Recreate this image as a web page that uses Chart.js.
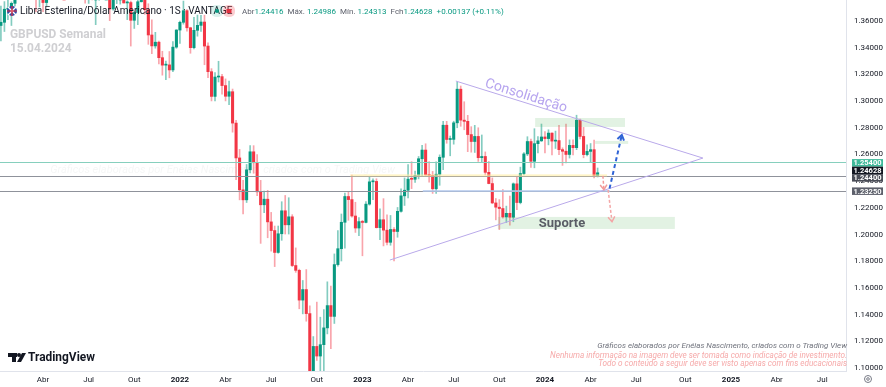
<!DOCTYPE html>
<html>
<head>
<meta charset="utf-8">
<script src="https://cdn.jsdelivr.net/npm/chart.js@4.4.1/dist/chart.umd.min.js"></script>
<style>
  html, body { margin: 0; padding: 0; background: #fff; overflow: hidden; }
  canvas { display: block; }
</style>
</head>
<body>
<canvas id="chart" width="886" height="387"></canvas>
<script>
// weekly GBPUSD candles, one per week starting Mon 04.01.2021
const open = [
  1.3670,1.3566,1.3590,1.3688,1.3692,1.3732,1.3841,1.3999,1.3924,1.3835,1.3931,1.3870,1.3788,1.3833,1.3738,1.3836,1.3874,1.3817,1.3997,1.4158,
  1.4153,1.4212,1.4158,1.4113,1.3806,1.3874,1.3826,1.3885,1.3760,1.3760,1.3904,1.3862,1.3868,1.3690,1.3760,1.3834,1.3836,1.3735,1.3738,1.3605,
  1.3663,1.3744,1.3756,1.3684,1.3495,1.3413,1.3441,1.3325,1.3269,1.3271,1.3233,1.3404,1.3532,1.3590,1.3677,1.3549,1.3400,1.3530,1.3567,1.3592,
  1.3412,1.3220,1.3035,1.3180,1.3183,1.3116,1.3036,1.3070,1.2835,1.2574,1.2335,1.2260,1.2485,1.2620,1.2538,1.2320,1.2223,1.2265,1.2095,1.2030,
  1.1866,1.2006,1.2178,1.2073,1.2133,1.1768,1.1732,1.1509,1.1588,1.1408,1.0857,1.1162,1.1090,1.1175,1.1301,1.1468,1.1387,1.1775,1.1894,1.2092,
  1.2285,1.2262,1.2139,1.2049,1.2097,1.2091,1.2228,1.2395,1.2398,1.2052,1.2111,1.2033,1.1942,1.2038,1.2023,1.2174,1.2290,1.2332,1.2415,1.2414,
  1.2444,1.2568,1.2633,1.2447,1.2443,1.2343,1.2452,1.2579,1.2819,1.2712,1.2713,1.2837,1.3089,1.2857,1.2848,1.2749,1.2697,1.2735,1.2576,1.2585,
  1.2466,1.2382,1.2237,1.2205,1.2195,1.2132,1.2159,1.2130,1.2380,1.2240,1.2457,1.2604,1.2697,1.2549,1.2681,1.2702,1.2731,1.2719,1.2760,1.2700,
  1.2704,1.2636,1.2624,1.2600,1.2668,1.2651,1.2856,1.2735,1.2599,1.2623,1.2636,1.24416
];
const high = [
  1.3703,1.3711,1.3745,1.3759,1.3743,1.3866,1.4009,1.4241,1.4017,1.3989,1.4003,1.3882,1.3887,1.3918,1.3845,1.4008,1.3976,1.4005,1.4166,1.4234,
  1.4218,1.4250,1.4217,1.4133,1.3974,1.3935,1.3908,1.3909,1.3787,1.3984,1.3959,1.3876,1.3892,1.3785,1.3892,1.3862,1.3913,1.3751,1.3749,1.3674,
  1.3773,1.3834,1.3826,1.3729,1.3608,1.3515,1.3450,1.3373,1.3300,1.3371,1.3445,1.3535,1.3599,1.3749,1.3686,1.3553,1.3628,1.3644,1.3643,1.3643,
  1.3437,1.3243,1.3214,1.3298,1.3200,1.3166,1.3149,1.3090,1.2856,1.2638,1.2406,1.2525,1.2666,1.2666,1.2600,1.2406,1.2325,1.2331,1.2166,1.2064,
  1.2064,1.2246,1.2293,1.2276,1.2149,1.1900,1.1741,1.1656,1.1738,1.1466,1.1236,1.1494,1.1381,1.1438,1.1646,1.1614,1.1855,1.2029,1.2154,1.2311,
  1.2323,1.2446,1.2242,1.2128,1.2107,1.2247,1.2436,1.2418,1.2418,1.2193,1.2269,1.2148,1.2143,1.2053,1.2203,1.2343,1.2424,1.2525,1.2546,1.2475,
  1.2585,1.2668,1.2680,1.2547,1.2473,1.2544,1.2597,1.2848,1.2848,1.2738,1.2849,1.3142,1.3113,1.2995,1.2893,1.2808,1.2818,1.2800,1.2746,1.2619,
  1.2548,1.2424,1.2270,1.2262,1.2337,1.2213,1.2289,1.2387,1.2428,1.2505,1.2615,1.2733,1.2715,1.2793,1.2734,1.2828,1.2771,1.2785,1.2762,1.2775,
  1.2818,1.2650,1.2828,1.2709,1.2709,1.2894,1.2865,1.2803,1.2673,1.2682,1.2708,1.24986
];
const low = [
  1.3499,1.3451,1.3521,1.3610,1.3566,1.3710,1.3835,1.3888,1.3777,1.3779,1.3837,1.3670,1.3705,1.3669,1.3715,1.3817,1.3800,1.3801,1.3990,1.4069,
  1.4092,1.4082,1.4073,1.3786,1.3791,1.3733,1.3731,1.3758,1.3572,1.3755,1.3860,1.3803,1.3602,1.3680,1.3730,1.3726,1.3734,1.3610,1.3412,1.3544,
  1.3572,1.3742,1.3650,1.3425,1.3355,1.3396,1.3278,1.3194,1.3160,1.3174,1.3220,1.3395,1.3431,1.3576,1.3523,1.3358,1.3390,1.3486,1.3522,1.3272,
  1.3175,1.3001,1.3001,1.3143,1.3051,1.3001,1.2973,1.2767,1.2411,1.2260,1.2155,1.2240,1.2462,1.2459,1.2291,1.1934,1.2164,1.1976,1.1876,1.1760,
  1.1860,1.1957,1.2004,1.2004,1.1760,1.1717,1.1444,1.1406,1.1351,1.0839,1.0350,1.1057,1.0924,1.0938,1.1256,1.1146,1.1334,1.1763,1.1802,1.1898,
  1.2107,1.2130,1.2016,1.1992,1.1841,1.2087,1.2220,1.2262,1.2049,1.1961,1.1915,1.1923,1.1920,1.1803,1.1980,1.2168,1.2218,1.2275,1.2344,1.2391,
  1.2417,1.2436,1.2443,1.2392,1.2308,1.2308,1.2369,1.2487,1.2684,1.2590,1.2677,1.2800,1.2811,1.2785,1.2621,1.2617,1.2615,1.2548,1.2546,1.2446,
  1.2380,1.2231,1.2110,1.2037,1.2123,1.2090,1.2070,1.2096,1.2187,1.2230,1.2446,1.2591,1.2502,1.2500,1.2612,1.2697,1.2611,1.2672,1.2597,1.2645,
  1.2599,1.2518,1.2536,1.2573,1.2597,1.2636,1.2716,1.2575,1.2589,1.2539,1.2425,1.24313
];
const close = [
  1.3566,1.3590,1.3688,1.3692,1.3732,1.3841,1.3999,1.3924,1.3835,1.3931,1.3870,1.3788,1.3833,1.3738,1.3836,1.3874,1.3817,1.3997,1.4158,1.4153,
  1.4212,1.4158,1.4113,1.3806,1.3874,1.3826,1.3885,1.3760,1.3760,1.3904,1.3862,1.3868,1.3690,1.3760,1.3834,1.3836,1.3735,1.3738,1.3605,1.3663,
  1.3744,1.3756,1.3684,1.3495,1.3413,1.3441,1.3325,1.3269,1.3271,1.3233,1.3404,1.3532,1.3590,1.3677,1.3549,1.3400,1.3530,1.3567,1.3592,1.3412,
  1.3220,1.3035,1.3180,1.3183,1.3116,1.3036,1.3070,1.2835,1.2574,1.2335,1.2260,1.2485,1.2620,1.2538,1.2320,1.2223,1.2265,1.2095,1.2030,1.1866,
  1.2006,1.2178,1.2073,1.2133,1.1768,1.1732,1.1509,1.1588,1.1408,1.0857,1.1162,1.1090,1.1175,1.1301,1.1468,1.1387,1.1775,1.1894,1.2092,1.2285,
  1.2262,1.2139,1.2049,1.2097,1.2091,1.2228,1.2395,1.2398,1.2052,1.2111,1.2033,1.1942,1.2038,1.2023,1.2174,1.2290,1.2332,1.2415,1.2414,1.2444,
  1.2568,1.2633,1.2447,1.2443,1.2343,1.2452,1.2579,1.2819,1.2712,1.2713,1.2837,1.3089,1.2857,1.2848,1.2749,1.2697,1.2735,1.2576,1.2585,1.2466,
  1.2382,1.2237,1.2205,1.2195,1.2132,1.2159,1.2130,1.2380,1.2240,1.2457,1.2604,1.2697,1.2549,1.2681,1.2702,1.2731,1.2719,1.2760,1.2700,1.2704,
  1.2636,1.2624,1.2600,1.2668,1.2651,1.2856,1.2735,1.2599,1.2623,1.2636,1.2442,1.24628
];

// time axis labels (first weekly bar of each month)
const tickMonths = ['2021-04','2021-07','2021-10','2022-01','2022-04','2022-07','2022-10','2023-01','2023-04','2023-07','2023-10','2024-01','2024-04','2024-07','2024-10','2025-01','2025-04','2025-07'];
const tickLabels = ['Abr','Jul','Out','2022','Abr','Jul','Out','2023','Abr','Jul','Out','2024','Abr','Jul','Out','2025','Abr','Jul'];

// price axis
const priceTicks = [1.10,1.12,1.14,1.16,1.18,1.20,1.22,1.24,1.26,1.28,1.30,1.32,1.34,1.36];

// horizontal levels and their axis labels
const levelPrices = [1.2540, 1.2440, 1.2325];
const axisLabelPrices = [1.2540, 1.24628, 1.2440, 1.2325];

// drawings, in [week, price]
const triangleTop = [[130.6, 1.3150], [201.0, 1.2573]];
const triangleBottom = [[111.8, 1.1809], [201.0, 1.2573]];
const resistanceBox = [[153.2, 1.2873], [178.8, 1.2806]];
const smallBox = [[170.3, 1.2701], [179.7, 1.2679]];
const supportBox = [[142.6, 1.2132], [193.0, 1.2042]];
const yellowBand = [[100.5, 1.2451], [173.7, 1.2435]];
const blueLevel = [[121.2, 1.2326], [174.5, 1.2326]];
const upArrow = [[174.4, 1.2345], [177.9, 1.2746]];
const downArrow1 = [[172.5, 1.2440], [172.8, 1.2336]];
const downArrow2 = [[174.0, 1.2334], [175.1, 1.2096]];

const weekZero = Date.UTC(2021, 0, 4);
const DAY = 86400000;
function firstBarOf(ym) {
  const [y, m] = ym.split('-').map(Number);
  return Math.ceil((Date.UTC(y, m - 1, 1) - weekZero) / (7 * DAY));
}
const tickWeeks = tickMonths.map(firstBarOf);

const UP = '#089981', DOWN = '#f23645';
const bodies = open.map((o, i) => ({ x: i, y: [o, close[i]] }));
const wicks = open.map((o, i) => ({ x: i, y: [low[i], high[i]] }));
const bodyColors = open.map((o, i) => close[i] >= o ? UP : DOWN);
const wickColors = open.map((o, i) => close[i] >= o ? 'rgba(8,153,129,0.5)' : 'rgba(242,54,69,0.45)');

const FONT = 'Roboto, "Liberation Sans", sans-serif';

function px(chart, p) {
  return [chart.scales.x.getPixelForValue(p[0]), chart.scales.y.getPixelForValue(p[1])];
}

// pick a font size so that text spans the given width
function fitFont(ctx, text, width, style) {
  ctx.font = style + '10px ' + FONT;
  const size = 10 * width / ctx.measureText(text).width;
  ctx.font = style + size.toFixed(2) + 'px ' + FONT;
  return size;
}

function arrow(ctx, a, b, color, width, dash) {
  ctx.save();
  ctx.strokeStyle = color;
  ctx.lineWidth = width;
  ctx.setLineDash(dash);
  ctx.beginPath();
  ctx.moveTo(a[0], a[1]);
  ctx.lineTo(b[0], b[1]);
  ctx.stroke();
  ctx.setLineDash([]);
  const ang = Math.atan2(b[1] - a[1], b[0] - a[0]);
  const L = 6;
  ctx.beginPath();
  ctx.moveTo(b[0] - L * Math.cos(ang - 0.6), b[1] - L * Math.sin(ang - 0.6));
  ctx.lineTo(b[0], b[1]);
  ctx.lineTo(b[0] - L * Math.cos(ang + 0.6), b[1] - L * Math.sin(ang + 0.6));
  ctx.stroke();
  ctx.restore();
}

const drawings = {
  id: 'drawings',
  afterDatasetsDraw(chart) {
    const ctx = chart.ctx;
    const area = chart.chartArea;
    const ys = chart.scales.y;
    ctx.save();
    ctx.beginPath();
    ctx.rect(area.left, area.top, area.right - area.left, area.bottom - area.top);
    ctx.clip();

    // faint watermark
    ctx.font = 'italic 11px ' + FONT;
    ctx.fillStyle = 'rgba(120,123,134,0.07)';
    ctx.textAlign = 'right';
    ctx.textBaseline = 'middle';
    ctx.fillText('Gráficos elaborados por Enéias Nascimento, criados com o Trading View', 395, 170);

    // boxes
    ctx.fillStyle = 'rgba(76,175,80,0.16)';
    [resistanceBox, smallBox, supportBox].forEach(bx => {
      const a = px(chart, bx[0]), b = px(chart, bx[1]);
      ctx.fillRect(a[0], a[1], b[0] - a[0], b[1] - a[1]);
    });

    // full-width levels
    const lvlColors = ['#86cfbd', '#8f929b', '#8f929b'];
    levelPrices.forEach((p, i) => {
      const y = Math.round(ys.getPixelForValue(p)) + 0.5;
      ctx.strokeStyle = lvlColors[i];
      ctx.lineWidth = 1;
      ctx.beginPath();
      ctx.moveTo(area.left, y);
      ctx.lineTo(area.right, y);
      ctx.stroke();
    });

    // yellow band
    {
      const a = px(chart, yellowBand[0]), b = px(chart, yellowBand[1]);
      ctx.fillStyle = 'rgba(255,236,160,0.6)';
      ctx.fillRect(a[0], a[1], b[0] - a[0], b[1] - a[1]);
    }
    // light blue level segment
    {
      const a = px(chart, blueLevel[0]), b = px(chart, blueLevel[1]);
      ctx.strokeStyle = '#b3c8ec';
      ctx.lineWidth = 1.5;
      ctx.beginPath();
      ctx.moveTo(a[0], a[1]);
      ctx.lineTo(b[0], b[1]);
      ctx.stroke();
    }

    // triangle
    ctx.strokeStyle = '#b9a9ea';
    ctx.lineWidth = 1;
    [triangleTop, triangleBottom].forEach(ln => {
      const a = px(chart, ln[0]), b = px(chart, ln[1]);
      ctx.beginPath();
      ctx.moveTo(a[0], a[1]);
      ctx.lineTo(b[0], b[1]);
      ctx.stroke();
    });

    // Consolidação label along the upper line
    {
      const a = px(chart, triangleTop[0]), b = px(chart, triangleTop[1]);
      const ang = Math.atan2(b[1] - a[1], b[0] - a[0]);
      ctx.save();
      ctx.translate(526, 96);
      ctx.rotate(ang);
      ctx.font = '14px ' + FONT;
      ctx.fillStyle = '#b6a4ef';
      ctx.textAlign = 'center';
      ctx.textBaseline = 'middle';
      ctx.fillText('Consolidação', 0, 0);
      ctx.restore();
    }

    // Suporte label
    {
      const a = px(chart, supportBox[0]), b = px(chart, supportBox[1]);
      ctx.font = 'bold 13px ' + FONT;
      ctx.fillStyle = '#5a5d66';
      ctx.textAlign = 'center';
      ctx.textBaseline = 'middle';
      ctx.fillText('Suporte', 562, (a[1] + b[1]) / 2 + 0.5);
    }

    // arrows
    arrow(ctx, px(chart, upArrow[0]), px(chart, upArrow[1]), '#2f63d6', 2, [4, 3]);
    arrow(ctx, px(chart, downArrow1[0]), px(chart, downArrow1[1]), '#f29a9a', 1.5, [3, 2]);
    arrow(ctx, px(chart, downArrow2[0]), px(chart, downArrow2[1]), '#f4a7a7', 1.5, [3, 2]);

    ctx.restore();
  },
  afterDraw(chart) {
    const ctx = chart.ctx;
    const ys = chart.scales.y;
    ctx.save();

    ctx.textBaseline = 'middle';
    // flag
    ctx.fillStyle = '#2b4aa8';
    ctx.beginPath(); ctx.arc(12, 11, 5, 0, Math.PI * 2); ctx.fill();
    ctx.strokeStyle = '#fff'; ctx.lineWidth = 1.4;
    ctx.beginPath(); ctx.moveTo(8, 7); ctx.lineTo(16, 15); ctx.moveTo(16, 7); ctx.lineTo(8, 15); ctx.stroke();
    ctx.strokeStyle = '#e0303f'; ctx.lineWidth = 1.2;
    ctx.beginPath(); ctx.moveTo(12, 6); ctx.lineTo(12, 16); ctx.moveTo(7, 11); ctx.lineTo(17, 11); ctx.stroke();

    ctx.font = '10px ' + FONT;
    ctx.fillStyle = '#131722';
    ctx.textAlign = 'left';
    ctx.fillText('Libra Esterlina/Dólar Americano · 1S · VANTAGE', 20, 11.5);

    // status badges
    ctx.fillStyle = 'rgba(8,153,129,0.15)';
    ctx.beginPath(); ctx.roundRect(211, 5, 12, 12, 5); ctx.fill();
    ctx.fillStyle = UP;
    ctx.beginPath(); ctx.arc(217, 11, 2, 0, Math.PI * 2); ctx.fill();
    ctx.fillStyle = 'rgba(242,54,69,0.25)';
    ctx.beginPath(); ctx.roundRect(223, 5, 12, 12, 5); ctx.fill();
    ctx.fillStyle = '#e0303f';
    ctx.fillRect(226.5, 9, 5, 4);

    // OHLC
    const parts = [['Abr', '1.24416'], ['Máx.', '1.24986'], ['Mín.', '1.24313'], ['Fch', '1.24628']];
    const tail = '+0.00137 (+0.11%)';
    const GAP = 4, INNER = 2;
    ctx.font = '8px ' + FONT;
    let x = 242;
    parts.forEach(([k, v]) => {
      ctx.fillStyle = '#5d606b';
      ctx.fillText(k, x, 11.5);
      x += ctx.measureText(k).width + (k.endsWith('.') ? INNER : 0);
      ctx.fillStyle = UP;
      ctx.fillText(v, x, 11.5);
      x += ctx.measureText(v).width + GAP;
    });
    ctx.fillStyle = UP;
    ctx.fillText(tail, x, 11.5);

    // watermark title
    fitFont(ctx, 'GBPUSD Semanal', 96, 'bold ');
    ctx.fillStyle = '#cfcfd2';
    ctx.fillText('GBPUSD Semanal', 10, 35);
    ctx.fillText('15.04.2024', 10, 49);

    // credits
    ctx.textAlign = 'right';
    fitFont(ctx, 'Gráficos elaborados por Enéias Nascimento, criados com o Trading View', 250, 'italic ');
    ctx.fillStyle = '#6f727c';
    ctx.fillText('Gráficos elaborados por Enéias Nascimento, criados com o Trading View', 847, 346);
    fitFont(ctx, 'Nenhuma informação na imagem deve ser tomada como indicação de investimento.', 297, 'italic ');
    ctx.fillStyle = '#f6a9a9';
    ctx.fillText('Nenhuma informação na imagem deve ser tomada como indicação de investimento.', 847, 355.5);
    ctx.fillText('Todo o conteúdo a seguir deve ser visto apenas com fins educacionais', 847, 364);

    // TradingView logo
    ctx.fillStyle = '#131722';
    ctx.fillRect(8, 353, 9, 4);
    ctx.fillRect(12, 353, 4, 9);
    ctx.beginPath(); ctx.arc(19, 355, 2, 0, Math.PI * 2); ctx.fill();
    ctx.beginPath(); ctx.moveTo(22, 353); ctx.lineTo(26, 353); ctx.lineTo(21, 362); ctx.lineTo(17, 362); ctx.closePath(); ctx.fill();
    ctx.textAlign = 'left';
    fitFont(ctx, 'TradingView', 67, 'bold ');
    ctx.fillText('TradingView', 28, 358);

    // price axis labels, stacked like the platform does
    const boxColors = ['#3fb99a', '#131722', '#4a4d57', '#5d606b'];
    const H = 7.5;
    const items = axisLabelPrices.map((p, i) => ({ i, c: ys.getPixelForValue(p) }));
    let groups = items.map(it => ({ members: [it], c: it.c }));
    let merged = true;
    while (merged) {
      merged = false;
      for (let g = 0; g < groups.length - 1; g++) {
        const a = groups[g], b = groups[g + 1];
        const aBottom = a.c + a.members.length * H / 2;
        const bTop = b.c - b.members.length * H / 2;
        if (bTop - aBottom < 2) {
          const all = a.members.concat(b.members);
          groups.splice(g, 2, { members: all, c: all.reduce((s, m) => s + m.c, 0) / all.length });
          merged = true;
          break;
        }
      }
    }
    ctx.font = 'bold 7.5px ' + FONT;
    ctx.textAlign = 'center';
    groups.forEach(g => {
      let top = g.c - g.members.length * H / 2;
      g.members.forEach(m => {
        ctx.fillStyle = boxColors[m.i];
        ctx.fillRect(852, top, 31, H);
        ctx.fillStyle = '#fff';
        ctx.fillText(axisLabelPrices[m.i].toFixed(5), 867.5, top + H / 2 + 0.5);
        top += H;
      });
    });

    // settings icon in the corner
    ctx.strokeStyle = '#787b86';
    ctx.lineWidth = 1;
    ctx.beginPath(); ctx.arc(868, 379, 3.5, 0, Math.PI * 2); ctx.stroke();
    ctx.beginPath(); ctx.arc(868, 379, 1.3, 0, Math.PI * 2); ctx.stroke();

    ctx.restore();
  }
};

new Chart(document.getElementById('chart'), {
  type: 'bar',
  data: {
    datasets: [
      {
        label: 'corpo',
        data: bodies,
        backgroundColor: bodyColors,
        barThickness: 2.4,
        minBarLength: 1,
        grouped: false,
        order: 0
      },
      {
        label: 'pavio',
        data: wicks,
        backgroundColor: wickColors,
        barThickness: 1,
        grouped: false,
        order: 1
      }
    ]
  },
  options: {
    responsive: false,
    animation: false,
    devicePixelRatio: 1,
    layout: { padding: 0 },
    plugins: { legend: { display: false }, tooltip: { enabled: false } },
    scales: {
      x: {
        type: 'linear',
        offset: false,
        min: 2.6 / 3.51,
        max: (846 + 2.6) / 3.51,
        grid: { display: false, drawTicks: false },
        border: { display: true, color: '#e0e3eb' },
        afterBuildTicks: s => { s.ticks = tickWeeks.map(v => ({ value: v })); },
        afterFit: s => { s.height = 16; s.paddingLeft = 0; s.paddingRight = 0; },
        ticks: {
          autoSkip: false,
          maxRotation: 0,
          padding: 4,
          color: '#131722',
          font: c => ({ family: FONT, size: 8, weight: /^\d{4}$/.test(tickLabels[c.index] || '') ? 'bold' : 'normal' }),
          callback: (v, i) => tickLabels[i]
        }
      },
      y: {
        type: 'linear',
        position: 'right',
        min: 1.0978,
        max: 1.3757,
        grid: { display: false, drawTicks: false },
        border: { display: true, color: '#e0e3eb' },
        afterBuildTicks: s => { s.ticks = priceTicks.map(v => ({ value: v })); },
        afterFit: s => { s.width = 40; s.paddingTop = 0; s.paddingBottom = 0; },
        ticks: {
          padding: 8,
          color: '#131722',
          font: { family: FONT, size: 8 },
          callback: v => v.toFixed(5)
        }
      }
    }
  },
  plugins: [drawings]
});
</script>
</body>
</html>
